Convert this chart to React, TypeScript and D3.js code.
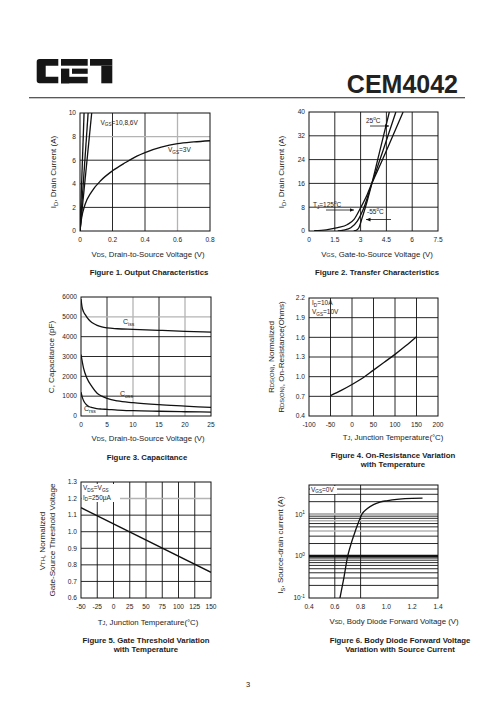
import React from "react";
import * as d3 from "d3";

const FONT = "'Liberation Sans', Arial, Helvetica, sans-serif";

// ---------- Figure 1: Output Characteristics ----------
const f1XTicks = [0, 0.2, 0.4, 0.6, 0.8];
const f1XLabels = ["0", "0.2", "0.4", "0.6", "0.8"];
const f1YTicks = [0, 2, 4, 6, 8, 10];
const f1YLabels = ["0", "2", "4", "6", "8", "10"];
const f1Vgs10Vds = [0, 0.025];
const f1Vgs10Id = [0, 10];
const f1Vgs8Vds = [0, 0.05];
const f1Vgs8Id = [0, 10];
const f1Vgs6Vds = [0, 0.072];
const f1Vgs6Id = [0, 10];
const f1Vgs3Vds = [0, 0.005, 0.01, 0.03, 0.07, 0.13, 0.2, 0.28, 0.35, 0.4, 0.5, 0.6, 0.7, 0.8];
const f1Vgs3Id = [0, 0.6, 1.1, 2.2, 3.3, 4.3, 5.1, 5.8, 6.35, 6.65, 7.1, 7.4, 7.55, 7.65];

// ---------- Figure 2: Transfer Characteristics ----------
const f2XTicks = [0, 1.5, 3, 4.5, 6, 7.5];
const f2XLabels = ["0", "1.5", "3", "4.5", "6", "7.5"];
const f2YTicks = [0, 8, 16, 24, 32, 40];
const f2YLabels = ["0", "8", "16", "24", "32", "40"];
const f2T125Vgs = [0.3, 1.0, 1.67, 2.24, 2.62, 3.0, 3.38, 3.66, 4.2, 4.8, 5.47];
const f2T125Id = [0.1, 0.4, 1.1, 2.2, 3.9, 7.8, 12.2, 16.1, 23, 31, 40];
const f2T25Vgs = [1.67, 2.0, 2.43, 2.81, 3.19, 3.66, 4.3, 5.05];
const f2T25Id = [0.0, 0.3, 1.1, 3.3, 7.8, 16.1, 27, 40];
const f2Tm55Vgs = [2.6, 2.8, 2.9, 3.09, 3.38, 3.66, 4.1, 4.67];
const f2Tm55Id = [0, 0.4, 1.1, 4.4, 10, 16.1, 26.5, 40];

// ---------- Figure 3: Capacitance ----------
const f3XTicks = [0, 5, 10, 15, 20, 25];
const f3XLabels = ["0", "5", "10", "15", "20", "25"];
const f3YTicks = [0, 1000, 2000, 3000, 4000, 5000, 6000];
const f3YLabels = ["0", "1000", "2000", "3000", "4000", "5000", "6000"];
const f3CissVds = [0, 0.2, 0.5, 0.85, 1.3, 1.8, 2.5, 3.1, 4, 5, 7, 10, 15, 20, 25];
const f3Ciss = [5900, 5500, 5250, 5100, 4920, 4780, 4650, 4570, 4490, 4440, 4400, 4370, 4320, 4270, 4230];
const f3CossVds = [0, 0.5, 1.15, 2.1, 3.1, 4, 5, 7, 10, 15, 20, 25];
const f3Coss = [3100, 2400, 1900, 1480, 1150, 1000, 890, 760, 670, 570, 500, 430];
const f3CrssVds = [0, 0.3, 0.6, 1, 1.5, 2.2, 3, 4, 5, 7, 10, 15, 20, 25];
const f3Crss = [1200, 900, 720, 580, 480, 420, 375, 350, 335, 300, 270, 240, 215, 200];

// ---------- Figure 4: On-Resistance vs Temperature ----------
const f4XTicks = [-100, -50, 0, 50, 100, 150, 200];
const f4XLabels = ["-100", "-50", "0", "50", "100", "150", "200"];
const f4YTicks = [0.4, 0.7, 1.0, 1.3, 1.6, 1.9, 2.2];
const f4YLabels = ["0.4", "0.7", "1.0", "1.3", "1.6", "1.9", "2.2"];
const f4Tj = [-50, -25, 0, 25, 50, 75, 100, 125, 150];
const f4Rds = [0.71, 0.79, 0.88, 0.98, 1.1, 1.22, 1.34, 1.47, 1.61];

// ---------- Figure 5: Gate Threshold vs Temperature ----------
const f5XTicks = [-50, -25, 0, 25, 50, 75, 100, 125, 150];
const f5XLabels = ["-50", "-25", "0", "25", "50", "75", "100", "125", "150"];
const f5YTicks = [0.6, 0.7, 0.8, 0.9, 1.0, 1.1, 1.2, 1.3];
const f5YLabels = ["0.6", "0.7", "0.8", "0.9", "1.0", "1.1", "1.2", "1.3"];
const f5Tj = [-50, 150];
const f5Vth = [1.145, 0.755];

// ---------- Figure 6: Body Diode ----------
const f6XTicks = [0.4, 0.6, 0.8, 1.0, 1.2, 1.4];
const f6XLabels = ["0.4", "0.6", "0.8", "1.0", "1.2", "1.4"];
const f6YTicks = [0.1, 1, 10];
const f6YExp = ["-1", "0", "1"];
const f6Vsd = [0.64, 0.67, 0.7, 0.72, 0.75, 0.78, 0.81, 0.85, 0.9, 0.95, 1.0, 1.1, 1.2, 1.28];
const f6Is = [0.1, 0.3, 1.0, 1.7, 3.3, 6, 10, 13.5, 17, 19.5, 21, 23, 24, 24.3];
const f6Minor = [0.2, 0.3, 0.4, 0.5, 0.6, 0.7, 0.8, 0.9, 2, 3, 4, 5, 6, 7, 8, 9, 20, 30, 40];

type Seg = { t: string; kind?: "sub" | "sup" | "sc" };

function parse(s: string): Seg[] {
  const out: Seg[] = [];
  const re = /([_^~])\{([^}]*)\}/g;
  let last = 0;
  let m: RegExpExecArray | null;
  while ((m = re.exec(s))) {
    if (m.index > last) out.push({ t: s.slice(last, m.index) });
    out.push({ t: m[2], kind: m[1] === "_" ? "sub" : m[1] === "^" ? "sup" : "sc" });
    last = re.lastIndex;
  }
  if (last < s.length) out.push({ t: s.slice(last) });
  return out;
}

function Rich(props: {
  x: number; y: number; s: string; size: number; anchor?: string; weight?: string | number; rotate?: number; fill?: string;
}) {
  const { x, y, s, size, anchor = "start", weight, rotate, fill = "#1c1c1c" } = props;
  let off = 0;
  const spans = parse(s).map((g, i) => {
    const target = g.kind === "sub" ? size * 0.3 : g.kind === "sup" ? -size * 0.4 : 0;
    const dy = target - off;
    off = target;
    return (
      <tspan key={i} dy={dy !== 0 ? dy : undefined} fontSize={g.kind ? size * 0.72 : size}>
        {g.t}
      </tspan>
    );
  });
  return (
    <text
      x={x}
      y={y}
      textAnchor={anchor as any}
      fontSize={size}
      fontWeight={weight as any}
      fontFamily={FONT}
      fill={fill}
      transform={rotate ? `rotate(${rotate},${x},${y})` : undefined}
    >
      {spans}
    </text>
  );
}

type Curve = { xs: number[]; ys: number[]; w?: number; linear?: boolean };

type PanelProps = {
  id: string;
  box: [number, number, number, number];
  xDomain: [number, number];
  yDomain: [number, number];
  logY?: boolean;
  xTicks: number[];
  xLabels: string[];
  yTicks: number[];
  yLabels: string[];
  xGrid: number[];
  yGrid: number[];
  grayX?: number[];
  grayY?: number[];
  heavyY?: number[];
  curves: Curve[];
};

const TICK = 6.6;

function Panel(p: PanelProps) {
  const [x0, y0, x1, y1] = p.box;
  const xs = d3.scaleLinear().domain(p.xDomain).range([x0, x1]);
  const ys = p.logY
    ? d3.scaleLog().domain(p.yDomain).range([y1, y0])
    : d3.scaleLinear().domain(p.yDomain).range([y1, y0]);
  const grayX = p.grayX || [];
  const grayY = p.grayY || [];
  const heavyY = p.heavyY || [];
  return (
    <g>
      <defs>
        <clipPath id={p.id}>
          <rect x={x0} y={y0} width={x1 - x0} height={y1 - y0} />
        </clipPath>
      </defs>
      {p.xGrid.map((v, i) => (
        <line key={"gx" + i} x1={xs(v)} x2={xs(v)} y1={y0} y2={y1}
          stroke={grayX.includes(v) ? "#b4b4b4" : "#111"} strokeWidth={grayX.includes(v) ? 1.3 : 0.9} />
      ))}
      {p.yGrid.map((v, i) => (
        <line key={"gy" + i} x1={x0} x2={x1} y1={ys(v)} y2={ys(v)}
          stroke={grayY.includes(v) ? "#b4b4b4" : "#111"}
          strokeWidth={heavyY.includes(v) ? 2.6 : grayY.includes(v) ? 1.4 : 0.9} />
      ))}
      <rect x={x0} y={y0} width={x1 - x0} height={y1 - y0} fill="none" stroke="#111" strokeWidth={1} />
      <g clipPath={`url(#${p.id})`}>
        {p.curves.map((c, i) => {
          const pts = c.xs.map((v, k) => [xs(v), ys(c.ys[k])] as [number, number]);
          const gen = d3.line().curve(c.linear ? d3.curveLinear : d3.curveMonotoneX);
          return (
            <path key={i} d={gen(pts) || ""} fill="none" stroke="#111" strokeWidth={c.w || 1.3} />
          );
        })}
      </g>
      {p.xTicks.map((v, i) => (
        <Rich key={"xt" + i} x={xs(v)} y={y1 + 10.5} s={p.xLabels[i]} size={TICK} anchor="middle" />
      ))}
      {p.yTicks.map((v, i) => (
        <Rich key={"yt" + i} x={x0 - 4} y={ys(v) + 2.3} s={p.yLabels[i]} size={TICK} anchor="end" />
      ))}
    </g>
  );
}

function Logo() {
  return (
    <g fill="#161616">
      <path d="M39.5,59 H58.3 V65.7 H45.7 V76.7 H58.3 V83.3 H39.5 Q36.7,83.3 36.7,80.5 V61.8 Q36.7,59 39.5,59 Z" />
      <rect x={61} y={59} width={26.7} height={6.7} />
      <rect x={72} y={68.6} width={15.7} height={5.2} />
      <rect x={61} y={68.6} width={8.3} height={14.7} />
      <rect x={61} y={76.8} width={26.7} height={6.5} />
      <rect x={90} y={59} width={22.3} height={6.7} />
      <rect x={101.3} y={65.7} width={11} height={17.6} />
    </g>
  );
}

export default function App() {
  const AX = 7.8;
  const YL = 8.1;
  const CAP = 7.8;
  const TX = 6.5;
  return (
    <svg width={496} height={723} style={{ position: "absolute", left: 0, top: 0, background: "#fff" }}>
      <defs>
        <marker id="arr" viewBox="0 0 6 6" refX="6" refY="3" markerWidth="4.5" markerHeight="4.5"
          markerUnits="userSpaceOnUse" orient="auto">
          <path d="M0,0.5 L6,3 L0,5.5 Z" fill="#111" />
        </marker>
      </defs>
      <rect width={496} height={723} fill="#fff" />
      <Logo />
      <text x={458} y={92.5} textAnchor="end" fontFamily={FONT} fontWeight="bold" fontSize={25} fill="#222">
        CEM4042
      </text>
      <line x1={29} x2={465} y1={97.7} y2={97.7} stroke="#222" strokeWidth={1.1} />

      {/* Figure 1 */}
      <Panel id="c1" box={[80, 113, 210, 231]} xDomain={[0, 0.8]} yDomain={[0, 10]}
        xTicks={f1XTicks} xLabels={f1XLabels} yTicks={f1YTicks} yLabels={f1YLabels}
        xGrid={[0.2, 0.4, 0.6]} yGrid={[2, 4, 6, 8]} grayX={[0.6]} grayY={[8]}
        curves={[
          { xs: f1Vgs10Vds, ys: f1Vgs10Id, linear: true },
          { xs: f1Vgs8Vds, ys: f1Vgs8Id, linear: true },
          { xs: f1Vgs6Vds, ys: f1Vgs6Id, linear: true },
          { xs: f1Vgs3Vds, ys: f1Vgs3Id },
        ]} />
      <Rich x={100.5} y={124.5} s="V_{GS}=10,8,6V" size={TX} />
      <Rich x={168} y={152} s="V_{GS}=3V" size={TX} />
      <Rich x={56} y={172} s="I_{D}, Drain Current (A)" size={YL} anchor="middle" rotate={-90} />
      <Rich x={148} y={257} s="V~{DS}, Drain-to-Source Voltage (V)" size={AX} anchor="middle" />
      <Rich x={149} y={275} s="Figure 1. Output Characteristics" size={CAP} weight="bold" anchor="middle" />

      {/* Figure 2 */}
      <Panel id="c2" box={[309, 112, 438, 231]} xDomain={[0, 7.5]} yDomain={[0, 40]}
        xTicks={f2XTicks} xLabels={f2XLabels} yTicks={f2YTicks} yLabels={f2YLabels}
        xGrid={[1.5, 3, 4.5, 6]} yGrid={[8, 16, 24, 32]}
        curves={[
          { xs: f2T125Vgs, ys: f2T125Id },
          { xs: f2T25Vgs, ys: f2T25Id },
          { xs: f2Tm55Vgs, ys: f2Tm55Id },
        ]} />
      <Rich x={366} y={122.5} s="25^{o}C" size={TX} />
      <line x1={370} x2={389} y1={126} y2={126} stroke="#111" strokeWidth={0.8} markerEnd="url(#arr)" />
      <Rich x={313} y={207} s="T_{J}=125^{o}C" size={TX} />
      <line x1={326} x2={354} y1={210} y2={210} stroke="#111" strokeWidth={0.8} markerEnd="url(#arr)" />
      <Rich x={367} y={214} s="-55^{o}C" size={TX} />
      <line x1={391} x2={366} y1={219.5} y2={219.5} stroke="#111" strokeWidth={0.8} markerEnd="url(#arr)" />
      <Rich x={284} y={172} s="I_{D}, Drain Current (A)" size={YL} anchor="middle" rotate={-90} />
      <Rich x={377} y={257} s="V~{GS}, Gate-to-Source Voltage (V)" size={AX} anchor="middle" />
      <Rich x={377} y={275} s="Figure 2. Transfer Characteristics" size={CAP} weight="bold" anchor="middle" />

      {/* Figure 3 */}
      <Panel id="c3" box={[81, 297, 211, 416]} xDomain={[0, 25]} yDomain={[0, 6000]}
        xTicks={f3XTicks} xLabels={f3XLabels} yTicks={f3YTicks} yLabels={f3YLabels}
        xGrid={[5, 10, 15, 20]} yGrid={[1000, 2000, 3000, 4000, 5000]} grayX={[10, 20]} grayY={[5000]}
        curves={[
          { xs: f3CissVds, ys: f3Ciss },
          { xs: f3CossVds, ys: f3Coss },
          { xs: f3CrssVds, ys: f3Crss },
        ]} />
      <Rich x={123} y={324} s="C_{iss}" size={TX + 0.5} />
      <Rich x={120} y={396} s="C_{oss}" size={TX + 0.5} />
      <Rich x={84} y={411} s="C_{rss}" size={TX + 0.5} />
      <Rich x={54} y={357} s="C, Capacitance (pF)" size={YL} anchor="middle" rotate={-90} />
      <Rich x={148} y={441} s="V~{DS}, Drain-to-Source Voltage (V)" size={AX} anchor="middle" />
      <Rich x={147} y={460} s="Figure 3. Capacitance" size={CAP} weight="bold" anchor="middle" />

      {/* Figure 4 */}
      <Panel id="c4" box={[309, 298, 438, 416]} xDomain={[-100, 200]} yDomain={[0.4, 2.2]}
        xTicks={f4XTicks} xLabels={f4XLabels} yTicks={f4YTicks} yLabels={f4YLabels}
        xGrid={[-50, 0, 50, 100, 150]} yGrid={[0.7, 1.0, 1.3, 1.6, 1.9]}
        curves={[{ xs: f4Tj, ys: f4Rds }]} />
      <Rich x={312} y={305} s="I_{D}=10A" size={TX} />
      <Rich x={312} y={314} s="V_{GS}=10V" size={TX} />
      <Rich x={274} y={357} s="R~{DS(ON)}, Normalized" size={YL} anchor="middle" rotate={-90} />
      <Rich x={283.5} y={357} s="R~{DS(ON)}, On-Resistance(Ohms)" size={YL} anchor="middle" rotate={-90} />
      <Rich x={393} y={440} s="T~{J}, Junction Temperature(°C)" size={AX} anchor="middle" />
      <Rich x={393} y={458} s="Figure 4. On-Resistance Variation" size={CAP} weight="bold" anchor="middle" />
      <Rich x={393} y={467} s="with Temperature" size={CAP} weight="bold" anchor="middle" />

      {/* Figure 5 */}
      <Panel id="c5" box={[81, 482, 211, 598]} xDomain={[-50, 150]} yDomain={[0.6, 1.3]}
        xTicks={f5XTicks} xLabels={f5XLabels} yTicks={f5YTicks} yLabels={f5YLabels}
        xGrid={[-25, 0, 25, 50, 75, 100, 125]} yGrid={[0.7, 0.8, 0.9, 1.0, 1.1, 1.2]} grayY={[1.2]}
        curves={[{ xs: f5Tj, ys: f5Vth, linear: true }]} />
      <rect x={82} y={484} width={38} height={18} fill="#fff" />
      <Rich x={83} y={490} s="V_{DS}=V_{GS}" size={TX} />
      <Rich x={83} y={499.5} s="I_{D}=250µA" size={TX} />
      <Rich x={45} y={541} s="V~{TH}, Normalized" size={YL} anchor="middle" rotate={-90} />
      <Rich x={54.5} y={540} s="Gate-Source Threshold Voltage" size={YL} anchor="middle" rotate={-90} />
      <Rich x={148} y={625} s="T~{J}, Junction Temperature(°C)" size={AX} anchor="middle" />
      <Rich x={146} y={643} s="Figure 5. Gate Threshold Variation" size={CAP} weight="bold" anchor="middle" />
      <Rich x={146} y={652} s="with Temperature" size={CAP} weight="bold" anchor="middle" />

      {/* Figure 6 */}
      <Panel id="c6" box={[309, 485, 438, 598]} xDomain={[0.4, 1.4]} yDomain={[0.1, 50]} logY
        xTicks={f6XTicks} xLabels={f6XLabels} yTicks={[]} yLabels={[]}
        xGrid={[0.6, 0.8]} yGrid={[...f6Minor, 1, 10]} grayY={[4, 7, 10]} heavyY={[1, 10]}
        curves={[{ xs: f6Vsd, ys: f6Is }]} />
      {f6YTicks.map((v, i) => {
        const y = d3.scaleLog().domain([0.1, 50]).range([598, 485])(v);
        return <Rich key={i} x={305} y={y + 2.3} s={`10^{${f6YExp[i]}}`} size={TICK} anchor="end" />;
      })}
      <rect x={310} y={486} width={27} height={8} fill="#fff" />
      <Rich x={311} y={491.5} s="V_{GS}=0V" size={TX} />
      <Rich x={283} y={545} s="I_{S}, Source-drain current (A)" size={YL} anchor="middle" rotate={-90} />
      <Rich x={394} y={624} s="V~{SD}, Body Diode Forward Voltage (V)" size={AX} anchor="middle" />
      <Rich x={400} y={643} s="Figure 6. Body Diode Forward Voltage" size={CAP} weight="bold" anchor="middle" />
      <Rich x={400} y={652} s="Variation with Source Current" size={CAP} weight="bold" anchor="middle" />

      <text x={248} y={687} textAnchor="middle" fontFamily={FONT} fontSize={7.5} fill="#222">3</text>
    </svg>
  );
}
